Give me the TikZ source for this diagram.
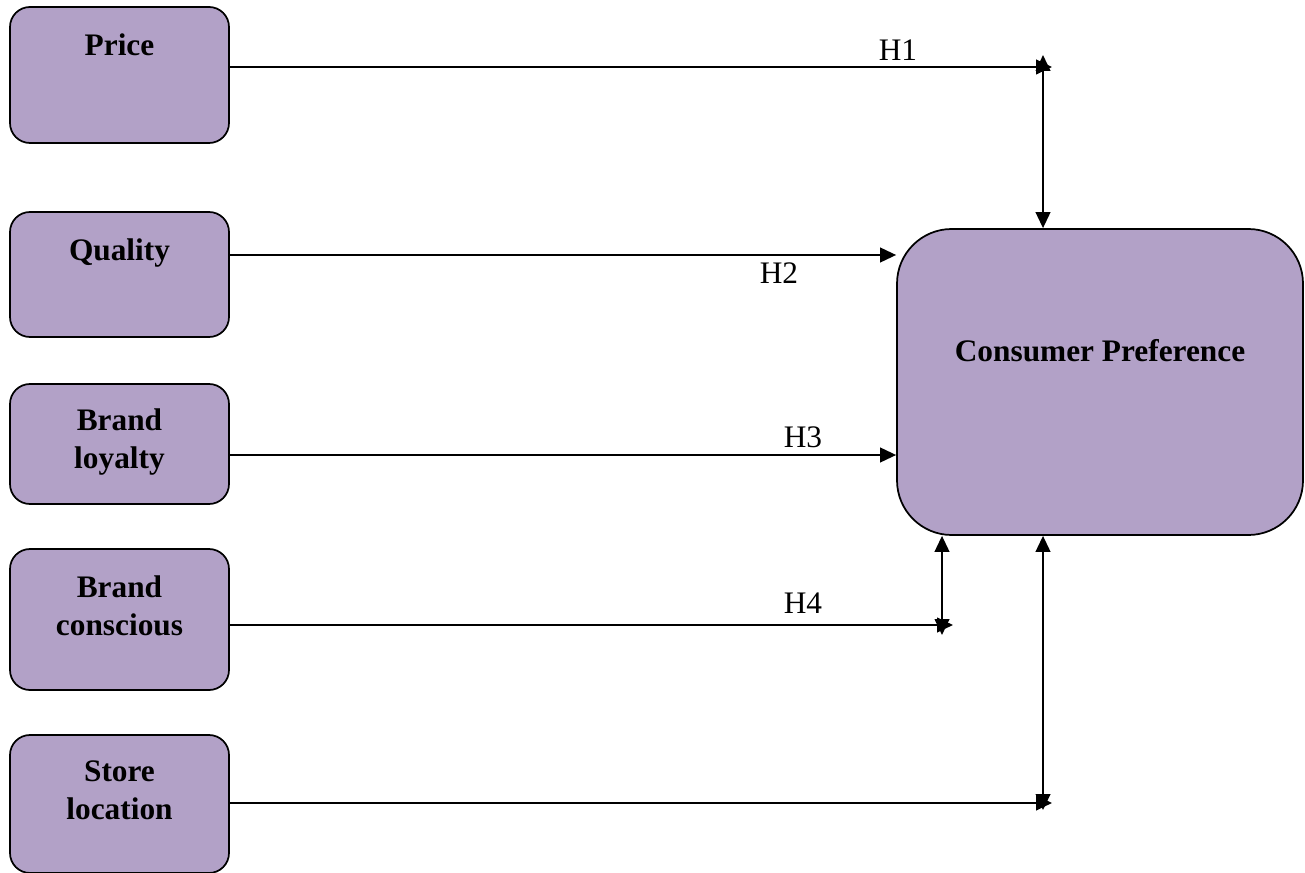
\documentclass[tikz,border=0pt]{standalone}
\usepackage{fontspec}
\setmainfont{Liberation Serif}
\usetikzlibrary{arrows.meta}
\definecolor{boxfill}{RGB}{178,161,199}
\begin{document}
\begin{tikzpicture}[x=0.75pt,y=-0.75pt,
  box/.style={draw=black, line width=1.3pt, fill=boxfill, rounded corners=15pt,
    minimum width=164.25pt, inner sep=0pt},
  bigbox/.style={box, rounded corners=41pt, minimum width=304.5pt, minimum height=229.5pt},
  lbl/.style={anchor=north, inner sep=0pt, align=center,
    font=\fontsize{23.5}{28.5}\selectfont\bfseries},
  hyp/.style={inner sep=0pt, font=\fontsize{23.5}{28}\selectfont},
  arr/.style={line width=1.5pt, -{Triangle[length=12pt,width=11pt]}},
  dbl/.style={line width=1.5pt, {Triangle[length=12pt,width=11pt]}-{Triangle[length=12pt,width=11pt]}}
]
\useasboundingbox (0,0) rectangle (1305,873);

% factor boxes
\node[box, minimum height=102pt]   (price)     at (119.5,75)    {};
\node[box, minimum height=93.75pt] (quality)   at (119.5,274.5) {};
\node[box, minimum height=90pt]    (loyalty)   at (119.5,444)   {};
\node[box, minimum height=105.75pt](conscious) at (119.5,619.5) {};
\node[box, minimum height=103.5pt] (store)     at (119.5,804)   {};
\node[bigbox] (cp) at (1100,382) {};

% box titles
\node[lbl] (priceT)     at ([yshift=-20.25pt]price.north)     {Price};
\node[lbl] (qualityT)   at ([yshift=-20.25pt]quality.north)   {Quality};
\node[lbl] (loyaltyT)   at ([yshift=-19pt]loyalty.north)      {Brand\\loyalty};
\node[lbl] (consciousT) at ([yshift=-20.25pt]conscious.north) {Brand\\conscious};
\node[lbl] (storeT)     at ([yshift=-19.5pt]store.north)      {Store\\location};
\node[lbl] (cpT)        at ([yshift=-83pt]cp.north)           {Consumer Preference};

% connector end points
\coordinate (h1end) at (1052,67);
\coordinate (v1top) at (1043,55);
\coordinate (h2lvl) at (0,255);
\coordinate (h3lvl) at (0,455);
\coordinate (h4end) at (953,625);
\coordinate (v4bot) at (942,635);
\coordinate (h5end) at (1052,803);
\coordinate (v5bot) at (1043,810);

% connectors
\draw[arr] (price.east |- h1end) -- (h1end);
\draw[dbl] (v1top) -- (cp.north -| v1top);
\draw[arr] (quality.east |- h2lvl) -- (cp.west |- h2lvl);
\draw[arr] (loyalty.east |- h3lvl) -- (cp.west |- h3lvl);
\draw[arr] (conscious.east |- h4end) -- (h4end);
\draw[dbl] (v4bot) -- (cp.south -| v4bot);
\draw[arr] (store.east |- h5end) -- (h5end);
\draw[dbl] (v5bot) -- (cp.south -| v5bot);

% hypothesis labels
\node[hyp] (H1) at (898,50)  {H1};
\node[hyp] (H2) at (779,273) {H2};
\node[hyp] (H3) at (803,437) {H3};
\node[hyp] (H4) at (803,603) {H4};
\end{tikzpicture}
\end{document}
